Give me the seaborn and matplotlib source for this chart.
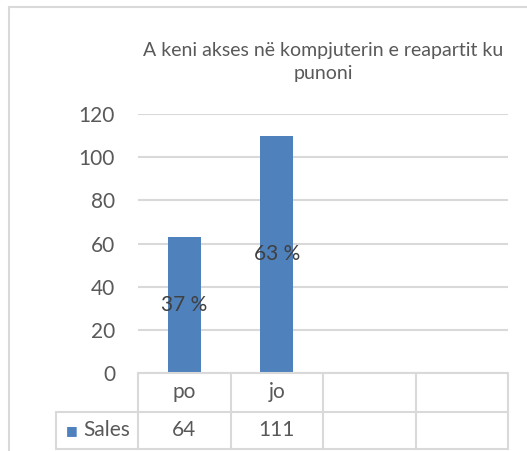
import matplotlib
matplotlib.use('Agg')
import matplotlib.pyplot as plt
import matplotlib.transforms as mtransforms
from matplotlib.lines import Line2D
import seaborn as sns
import pandas as pd

sns.set_theme(style="white")
plt.rcParams['font.family'] = ['Lato', 'DejaVu Sans']

# data
categories = ['po', 'jo']
bar_values = [63, 110]
table_labels = ['64', '111']
pct_labels = ['37 %', '63 %']
series_name = 'Sales'
title = 'A keni akses në kompjuterin e reapartit ku\npunoni'
n_cols = 4  # Excel data table has two empty columns

df = pd.DataFrame({'cat': categories, 'val': bar_values})

txt = '#595959'
grid = '#D9D9D9'
blue = '#4F81BD'
fs = 15

fig = plt.figure(figsize=(5.27, 4.51), dpi=100)
ax = fig.add_axes([138 / 527, 1 - 373 / 451, 370 / 527, 259 / 451])

sns.barplot(data=df, x='cat', y='val', color=blue, width=0.36, ax=ax,
            saturation=1, edgecolor='none')
ax.set_xlim(-0.5, n_cols - 0.5)
ax.set_ylim(0, 120)
ax.set_yticks(range(0, 121, 20))
ax.yaxis.grid(True, color=grid, lw=1.5)
ax.set_axisbelow(True)
for s in ax.spines.values():
    s.set_visible(False)
ax.set_xticks([])
ax.set_xlabel('')
ax.set_ylabel('')
ax.tick_params(axis='y', labelsize=fs, labelcolor=txt, length=0, pad=16.5)

ax.bar_label(ax.containers[0], labels=pct_labels, label_type='center',
             fontsize=fs, color='#404040')

ax.set_title(title, fontsize=14, color=txt, pad=25, linespacing=1.45)

# data table below the axis
tr = mtransforms.blended_transform_factory(ax.transData, ax.transAxes)
row1 = -39 / 259
row2 = -76 / 259
lw = 1.5
ax.plot([-0.5, n_cols - 0.5], [0, 0], transform=tr, color=grid, lw=lw, clip_on=False)
for y in (row1, row2):
    ax.plot([-1.39, n_cols - 0.5], [y, y], transform=tr, color=grid, lw=lw, clip_on=False)
for i in range(n_cols + 1):
    ax.plot([i - 0.5, i - 0.5], [0, row2], transform=tr, color=grid, lw=lw, clip_on=False)
ax.plot([-1.39, -1.39], [row1, row2], transform=tr, color=grid, lw=lw, clip_on=False)

for i, c in enumerate(categories):
    ax.text(i, row1 / 2, c, transform=tr, ha='center', va='center', fontsize=fs, color=txt)
    ax.text(i, (row1 + row2) / 2, table_labels[i], transform=tr, ha='center', va='center',
            fontsize=fs, color=txt)
ax.text(-1.28, (row1 + row2) / 2, '\u25a0', transform=tr, ha='left', va='center',
        fontsize=9, color=blue, family=['DejaVu Sans'])
ax.text(-1.09, (row1 + row2) / 2, series_name, transform=tr, ha='left', va='center',
        fontsize=fs, color=txt)

# chart frame
fig.add_artist(Line2D([9 / 527, 9 / 527], [0, 1 - 7 / 451], color=grid, lw=1.5))
fig.add_artist(Line2D([9 / 527, 1], [1 - 7 / 451, 1 - 7 / 451], color=grid, lw=1.5))

fig.savefig('out.png', dpi=100)
